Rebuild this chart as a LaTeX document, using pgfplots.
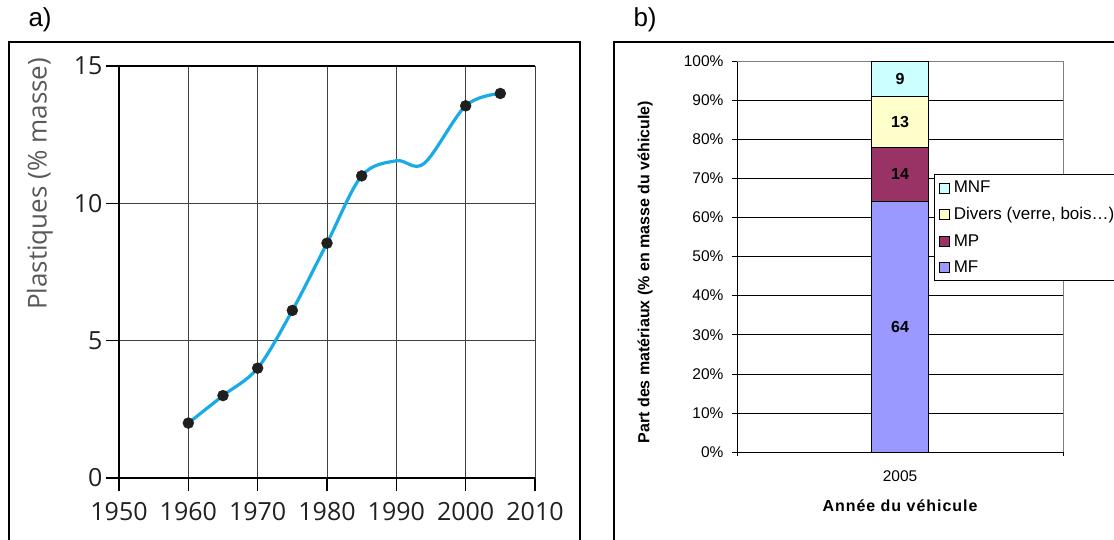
\documentclass[border=0pt]{standalone}
\usepackage{fontspec}
\setmainfont{Liberation Sans}
\newfontfamily\opensans{Open Sans}
\usepackage{pgfplots}
\pgfplotsset{compat=1.18}
\definecolor{lineblue}{HTML}{1AABE6}
\definecolor{textgray}{HTML}{231F20}
\definecolor{labgray}{HTML}{58595B}
\definecolor{cMF}{HTML}{9999FF}
\definecolor{cMP}{HTML}{993366}
\definecolor{cDiv}{HTML}{FFFFCC}
\definecolor{cMNF}{HTML}{CCFFFF}
\pgfplotsset{
  sq/.style={legend image code/.code={\draw[##1,draw=black,line width=0.6pt] (0pt,-5pt) rectangle (10pt,5pt);}},
  seglabel/.style={nodes near coords={\bfseries\pgfmathprintnumber{\pgfplotspointmeta}},
    point meta=rawy, every node near coord/.append style={anchor=center, font=\fontsize{16}{18}\selectfont}},
}

\begin{document}
\begin{tikzpicture}[x=1pt,y=1pt]
\useasboundingbox (0,0) rectangle (1114,539);
% panel frames
\draw[line width=1.7pt] (9,497) rectangle (580,-30);
\draw[line width=1.2pt] (614,497) rectangle (1160,-30);
\node[anchor=west,font=\fontsize{26}{26}\selectfont] at (25,519) {a)};
\node[anchor=west,font=\fontsize{26}{26}\selectfont] at (630,519) {b)};

% a) plastics share
\begin{axis}[
    at={(119pt,61pt)}, anchor=south west,
    scale only axis, width=416pt, height=412pt,
    xmin=1950, xmax=2010, ymin=0, ymax=15,
    xtick={1950,1960,...,2010}, ytick={0,5,10,15},
    xticklabel={\pgfmathprintnumber[1000 sep=]{\tick}},
    xtick pos=bottom, ytick pos=left,
    axis line style={draw=none},
    grid=major, grid style={black!75, line width=0.8pt},
    tick align=outside, major tick length=13pt,
    tick style={black, line width=1.2pt},
    ticklabel style={font=\opensans\fontsize{25}{25}\selectfont, text=textgray},
    xticklabel style={yshift=-8pt},
    /pgf/number format/assume math mode=true,
    ylabel={Plastiques (\% masse)},
    every axis y label/.style={at={(axis description cs:-0.19,0.714)}, rotate=90, anchor=center,
        font=\opensans\fontsize{26}{26}\selectfont, text=labgray},
    clip=false,
]
\draw[line width=2pt] (rel axis cs:0,0) -- (rel axis cs:1,0);
\draw[line width=2pt] (rel axis cs:0,0) -- (rel axis cs:0,1);
\draw[line width=2pt] (rel axis cs:0,1) -- (rel axis cs:1,1);
\addplot[lineblue, line width=3.2pt, smooth, tension=0.55] coordinates {
    (1960,2.0) (1965,3.0) (1970,4.0) (1975,6.1) (1980,8.55) (1985,11.0)
    (1990,11.55) (1994,11.45) (2000,13.55) (2005,14.0)
};
\addplot[only marks, mark=*, mark size=5.5pt, color=black!88] coordinates {
    (1960,2.0) (1965,3.0) (1970,4.0) (1975,6.1) (1980,8.55) (1985,11.0)
    (2000,13.55) (2005,14.0)
};
\end{axis}

% b) material shares
\begin{axis}[
    at={(737pt,87pt)}, anchor=south west,
    scale only axis, width=326pt, height=391pt,
    ybar stacked, bar width=56.7pt,
    xmin=0, xmax=2, ymin=0, ymax=100,
    xtick={1}, xticklabels={2005}, xtick style={draw=none},
    xtick pos=bottom, ytick pos=left,
    ytick={0,10,...,100},
    yticklabel={\pgfmathprintnumber{\tick}\%},
    ymajorgrids, grid style={black, line width=0.6pt},
    axis line style={draw=none},
    tick align=outside, major tick length=5pt,
    ytick style={black, line width=0.6pt},
    font=\fontsize{16}{18}\selectfont,
    ticklabel style={font=\fontsize{15.5}{17}\selectfont},
    yticklabel style={xshift=-5pt},
    xticklabel style={yshift=-10pt},
    /pgf/number format/assume math mode=true,
    xlabel={\bfseries\addfontfeatures{LetterSpace=6}Année du véhicule},
    ylabel={\bfseries Part des matériaux (\% en masse du véhicule)},
    every axis y label/.style={at={(axis description cs:-0.282,0.46)}, rotate=90, anchor=center},
    every axis x label/.style={at={(axis description cs:0.5,-0.138)}, anchor=center},
    reverse legend,
    legend cell align=left,
    legend style={at={(axis description cs:0.604,0.711)}, anchor=north west,
        draw=black, line width=0.6pt, font=\fontsize{17}{19}\selectfont,
        row sep=9pt, inner sep=5pt, nodes={inner xsep=4pt}},
    clip=false,
]
\addplot[sq, seglabel, fill=cMF, draw=black, line width=0.6pt] coordinates {(1,64)};
\addplot[sq, seglabel, fill=cMP, draw=black, line width=0.6pt] coordinates {(1,14)};
\addplot[sq, seglabel, fill=cDiv, draw=black, line width=0.6pt] coordinates {(1,13)};
\addplot[sq, seglabel, fill=cMNF, draw=black, line width=0.6pt] coordinates {(1,9)};
\legend{MF, MP, {Divers (verre, bois…)}, MNF}
\draw[black!50, line width=0.8pt] (rel axis cs:0,1) -- (rel axis cs:1,1) -- (rel axis cs:1,0);
\draw[black, line width=0.8pt] (rel axis cs:0,1) -- (rel axis cs:0,0) -- (rel axis cs:1,0);
\draw[black, line width=0.6pt] (rel axis cs:0,0) -- ++(0,-4pt);
\draw[black, line width=0.6pt] (rel axis cs:1,0) -- ++(0,-4pt);
\end{axis}
\end{tikzpicture}
\end{document}
